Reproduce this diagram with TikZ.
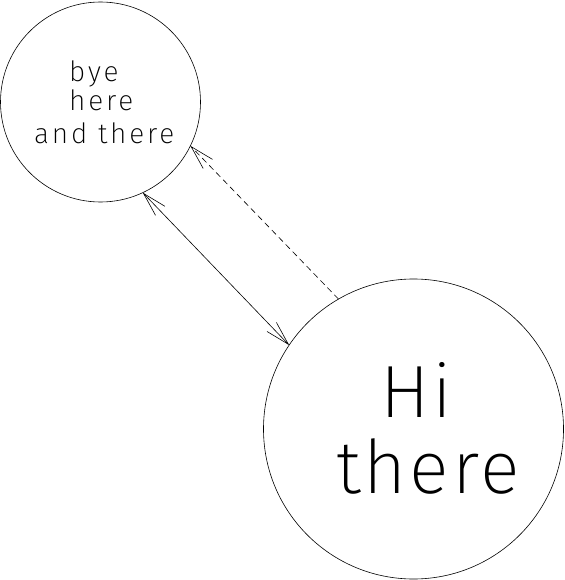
\documentclass[tikz,border=0pt]{standalone}
\usepackage{fontspec}
\setmainfont{Fira Sans ExtraLight}
\usetikzlibrary{arrows.meta}
\tikzset{
  ring/.style={draw, circle, inner sep=0pt, outer sep=0pt, line width=0.6pt},
  smalltxt/.style={anchor=base west, inner sep=0pt, font=\fontsize{28}{30}\selectfont\addfontfeatures{LetterSpace=10}},
  bigtxt/.style={anchor=base west, inner sep=0pt, font=\fontsize{74}{76}\selectfont\addfontfeatures{LetterSpace=4}},
  link/.style={line width=0.6pt},
  barb/.tip={Straight Barb[length=24pt,width=13pt,line width=0.6pt]},
}
\begin{document}
\begin{tikzpicture}[x=1pt,y=-1pt]
\useasboundingbox (0,0) rectangle (564,580);
\node[ring, minimum size=200pt] (small) at (100.5,102) {};
\node[ring, minimum size=300pt] (big) at (413.5,429) {};
\node[smalltxt] (l1) at (69,81.7) {bye};
\node[smalltxt] (l2) at (69,110.7) {here};
\node[smalltxt] (l3) at (34,143.3) {and there};
\node[bigtxt] (b1) at (380,417) {Hi};
\node[bigtxt] (b2) at (336,493) {there};
\draw[link, barb-barb] (small.-65.3) -- (big.146.4);
\draw[link, -barb, dash pattern=on 6pt off 4pt] (big.120.3) -- (small.-26.2);
\end{tikzpicture}
\end{document}
